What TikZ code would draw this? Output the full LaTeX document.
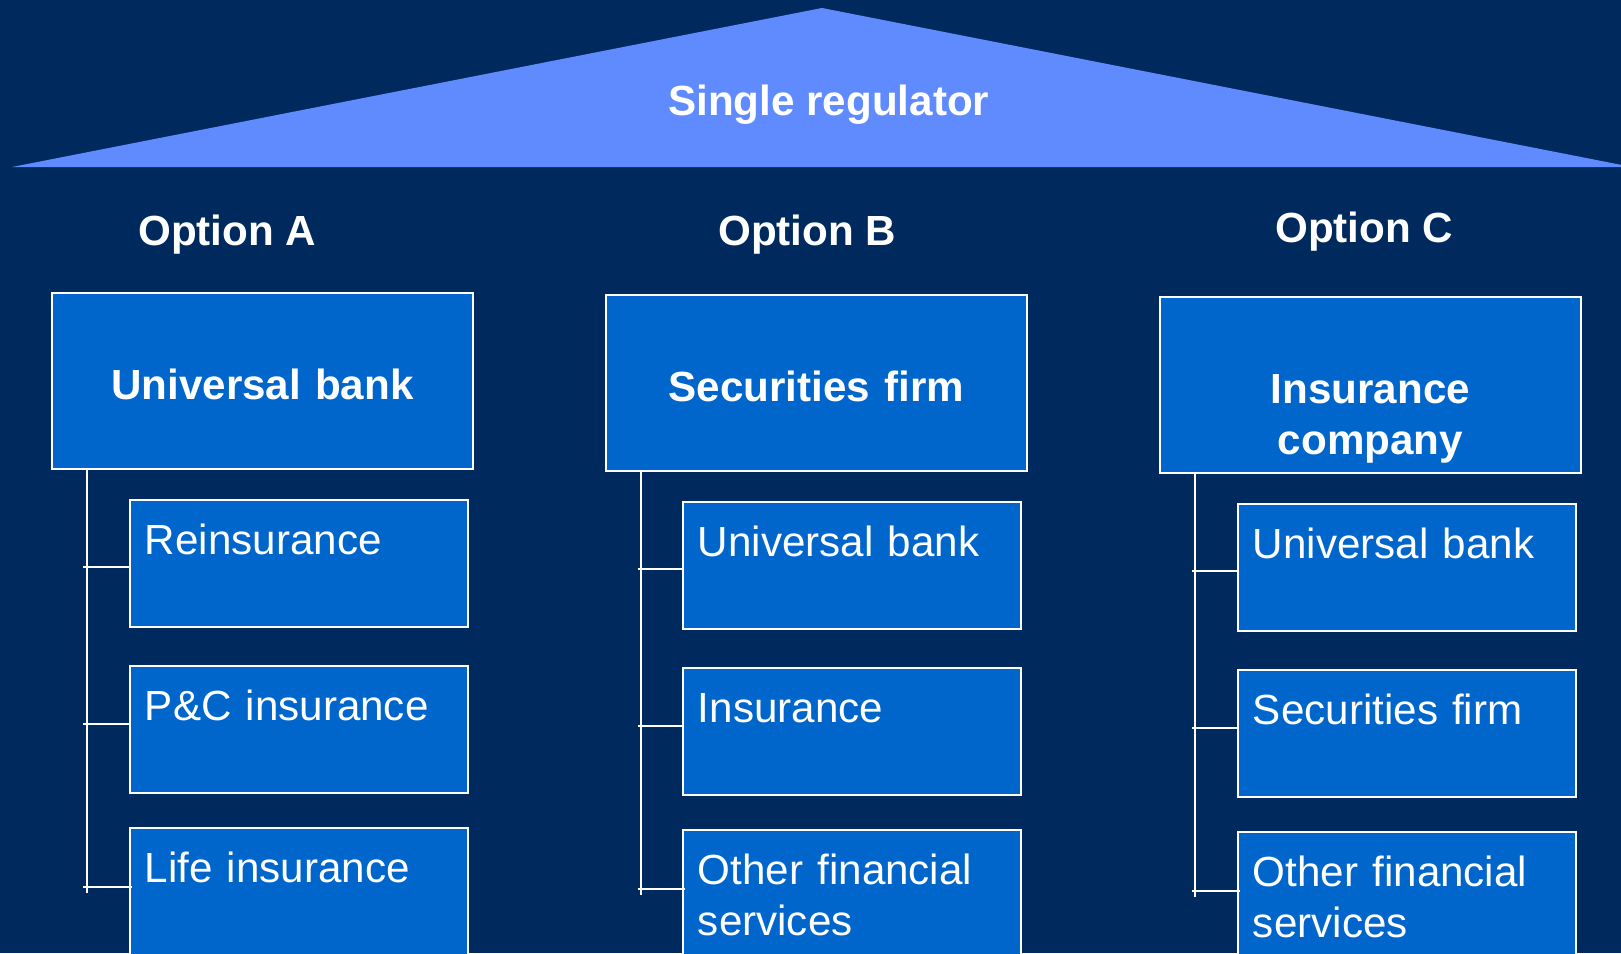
\documentclass[tikz,border=0pt]{standalone}
\usepackage{fontspec}
\setmainfont{Liberation Sans}
\usetikzlibrary{positioning}
\definecolor{navy}{RGB}{0,42,94}
\definecolor{roofblue}{RGB}{95,139,255}
\definecolor{boxblue}{RGB}{0,102,204}

\begin{document}
\begin{tikzpicture}[x=0.02cm,y=-0.02cm,
    head node/.style={anchor=north west,draw=white,fill=boxblue,line width=1.1pt,text width=8.42cm,inner sep=0pt,text height=2.14cm,text depth=1.38cm,text=white,align=center,font=\fontsize{24}{29}\selectfont\bfseries},
    sub node/.style={anchor=north west,draw=white,fill=boxblue,line width=1.1pt,text width=6.16cm,inner xsep=0.3cm,inner ysep=0pt,text height=1.1cm,text depth=1.44cm,text=white,align=left,font=\fontsize{24}{29}\selectfont},
    option node/.style={anchor=base west,inner sep=0pt,text=white,font=\fontsize{24}{29}\selectfont\bfseries},
    tree line/.style={draw=white,line width=1.1pt}]

  \useasboundingbox (0,0) rectangle (1621,953);
  \clip (0,0) rectangle (1621,953);
  \fill[navy] (0,0) rectangle (1621,953);

  % roof
  \fill[roofblue] (12,167) -- (822,8) -- (1632,167) -- cycle;
  \node[option node] (roof) at (668,115) {Single regulator};

  \node[option node] (optA) at (138,245) {Option A};
  \node[option node] (optB) at (718,245) {Option B};
  \node[option node] (optC) at (1275,242) {Option C};

  % option A
  \node[head node] (headA) at (51,292) {Universal bank};
  \node[sub node] (subA1) at (129,499) {Reinsurance};
  \node[sub node,below=0.74cm of subA1.south west,anchor=north west] (subA2) {P\&C insurance};
  \node[sub node,below=0.66cm of subA2.south west,anchor=north west,text depth=2cm] (subA3) {Life insurance};

  % option B
  \node[head node] (headB) at (605,294) {Securities firm};
  \node[sub node] (subB1) at (682,501) {Universal bank};
  \node[sub node,below=0.74cm of subB1.south west,anchor=north west] (subB2) {Insurance};
  \node[sub node,below=0.66cm of subB2.south west,anchor=north west,text depth=2cm] (subB3) {Other financial\\services};

  % option C
  \node[head node] (headC) at (1159,296) {Insurance\\company};
  \node[sub node] (subC1) at (1237,503) {Universal bank};
  \node[sub node,below=0.74cm of subC1.south west,anchor=north west] (subC2) {Securities firm};
  \node[sub node,below=0.66cm of subC2.south west,anchor=north west,text depth=2cm] (subC3) {Other financial\\services};

  % trees
  \foreach \c in {A,B,C}{
    \coordinate (trunk\c) at ([xshift=0.72cm]head\c.south west);
    \coordinate (end\c) at ([yshift=-1.2cm]sub\c3.north west);
    \draw[tree line] (trunk\c) -- ([yshift=-0.12cm]trunk\c |- end\c);
    \draw[tree line] ([xshift=-0.07cm,yshift=-0.08cm]trunk\c |- sub\c1.west) -- ([yshift=-0.08cm]sub\c1.west);
    \draw[tree line] ([xshift=-0.07cm,yshift=0.1cm]trunk\c |- sub\c2.west) -- ([yshift=0.1cm]sub\c2.west);
    \draw[tree line] ([xshift=-0.07cm]trunk\c |- end\c) -- ([xshift=0.06cm]end\c);
  }
\end{tikzpicture}
\end{document}
